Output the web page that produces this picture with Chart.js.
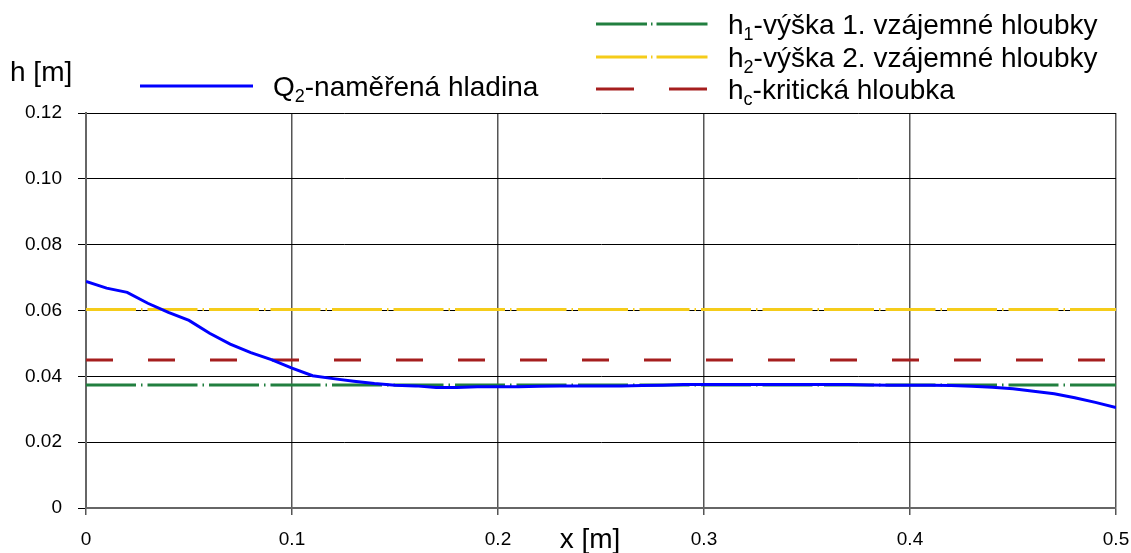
<!DOCTYPE html>
<html>
<head>
<meta charset="utf-8">
<script src="https://cdn.jsdelivr.net/npm/chart.js@4"></script>
<style>
  html, body { margin: 0; padding: 0; background: #fff; }
  #wrap { width: 1131px; height: 553px; position: relative; }
</style>
</head>
<body>
<div id="wrap"><canvas id="chart"></canvas></div>
<script>
// measured profile Q2
const xValues = [0, 0.01, 0.02, 0.03, 0.04, 0.05, 0.06, 0.07, 0.08, 0.09,
  0.10, 0.11, 0.12, 0.13, 0.14, 0.15, 0.16, 0.17, 0.18, 0.19,
  0.20, 0.21, 0.22, 0.23, 0.24, 0.25, 0.26, 0.27, 0.28, 0.29,
  0.30, 0.31, 0.32, 0.33, 0.34, 0.35, 0.36, 0.37, 0.38, 0.39,
  0.40, 0.41, 0.42, 0.43, 0.44, 0.45, 0.46, 0.47, 0.48, 0.49, 0.50];
const q2Values = [0.0688, 0.0668, 0.0655, 0.0622, 0.0594, 0.0570, 0.0531, 0.0498, 0.0472, 0.0451,
  0.0425, 0.0402, 0.0393, 0.0385, 0.0378, 0.0373, 0.0371, 0.0366, 0.0366, 0.0368,
  0.0368, 0.0368, 0.0370, 0.0371, 0.0371, 0.0371, 0.0371, 0.0372, 0.0373, 0.0375,
  0.0375, 0.0375, 0.0375, 0.0375, 0.0375, 0.0375, 0.0375, 0.0375, 0.0374, 0.0373,
  0.0373, 0.0373, 0.0372, 0.0370, 0.0367, 0.0362, 0.0355, 0.0347, 0.0335, 0.0321, 0.0305];

// constant depths
const h1 = 0.0374;   // 1. vzájemná hloubka
const h2 = 0.0603;   // 2. vzájemná hloubka
const hc = 0.0450;   // kritická hloubka
const xRange = [0, 0.5];

const yTicks = [0, 0.02, 0.04, 0.06, 0.08, 0.10, 0.12];
const xTicks = [0, 0.1, 0.2, 0.3, 0.4, 0.5];

// legend names as [base, subscript, rest]
const names = {
  q2: ['Q', '2', '-naměřená hladina'],
  h1: ['h', '1', '-výška 1. vzájemné hloubky'],
  h2: ['h', '2', '-výška 2. vzájemné hloubky'],
  hc: ['h', 'c', '-kritická hloubka']
};
const yTitle = 'h [m]';
const xTitle = 'x [m]';

const FONT = "'Liberation Sans', Arial, sans-serif";

function flat(v) {
  return xRange.map(x => ({ x: x, y: v }));
}

const datasets = [
  {
    key: 'q2',
    data: xValues.map((x, i) => ({ x: x, y: q2Values[i] })),
    borderColor: '#0000ff', borderWidth: 3, order: 0,
    legendPos: [140, 86, 253], legendDash: []
  },
  {
    key: 'h1', data: flat(h1),
    borderColor: '#217f3f', borderWidth: 3, borderDash: [50, 5, 1.5, 5], order: 1,
    legendPos: [596, 24, 708], legendDash: [51, 4, 1.5, 4]
  },
  {
    key: 'h2', data: flat(h2),
    borderColor: '#f5cc1a', borderWidth: 3, borderDash: [50, 5, 1.5, 5], order: 2,
    legendPos: [596, 57, 708], legendDash: [51, 4, 1.5, 4]
  },
  {
    key: 'hc', data: flat(hc),
    borderColor: '#a51e1e', borderWidth: 3, borderDash: [27, 35], order: 3,
    legendPos: [596, 89, 708], legendDash: [38, 35]
  }
];

// draws the legend entries and axis titles with subscripts
const decorations = {
  id: 'decorations',
  afterDraw(chart) {
    const ctx = chart.ctx;
    ctx.save();
    chart.data.datasets.forEach(ds => {
      const [x0, y, x1] = ds.legendPos;
      ctx.beginPath();
      ctx.strokeStyle = ds.borderColor;
      ctx.lineWidth = ds.borderWidth;
      ctx.setLineDash(ds.legendDash);
      ctx.moveTo(x0, y);
      ctx.lineTo(x1, y);
      ctx.stroke();
      ctx.setLineDash([]);

      const parts = names[ds.key];
      let tx = x1 + 20;
      ctx.fillStyle = '#000';
      ctx.textBaseline = 'alphabetic';
      ctx.textAlign = 'left';
      const base = y + 10;
      ctx.font = '28px ' + FONT;
      ctx.fillText(parts[0], tx, base);
      tx += ctx.measureText(parts[0]).width;
      ctx.font = '18px ' + FONT;
      ctx.fillText(parts[1], tx, base + 6);
      tx += ctx.measureText(parts[1]).width;
      ctx.font = '28px ' + FONT;
      ctx.fillText(parts[2], tx, base);
    });

    ctx.font = '28px ' + FONT;
    ctx.fillStyle = '#000';
    ctx.textBaseline = 'middle';
    ctx.textAlign = 'left';
    ctx.fillText(yTitle, 10, 73);
    ctx.textAlign = 'center';
    ctx.fillText(xTitle, 590, 540);
    ctx.restore();
  }
};

new Chart(document.getElementById('chart'), {
  type: 'scatter',
  data: {
    datasets: datasets.map(d => Object.assign({
      label: names[d.key].join(''),
      showLine: true,
      pointRadius: 0,
      pointHoverRadius: 0,
      fill: false,
      tension: 0
    }, d))
  },
  options: {
    responsive: true,
    maintainAspectRatio: false,
    animation: false,
    layout: { padding: { top: 113, right: 15, bottom: 0, left: 0 } },
    plugins: {
      legend: { display: false },
      tooltip: { enabled: false }
    },
    scales: {
      x: {
        type: 'linear',
        min: xRange[0], max: xRange[1],
        afterBuildTicks: s => { s.ticks = xTicks.map(v => ({ value: v })); },
        afterFit: s => { s.height = 45; s.paddingLeft = 0; s.paddingRight = 0; },
        ticks: {
          color: '#000',
          font: { family: FONT, size: 19 },
          padding: 13,
          maxRotation: 0,
          callback: v => String(v)
        },
        grid: { color: '#555', lineWidth: 1.5, tickLength: 7 },
        border: { color: '#666', width: 2 }
      },
      y: {
        min: 0, max: 0.12,
        afterBuildTicks: s => { s.ticks = yTicks.map(v => ({ value: v })); },
        afterFit: s => { s.width = 86; s.paddingTop = 0; s.paddingBottom = 0; },
        ticks: {
          color: '#000',
          font: { family: FONT, size: 19 },
          padding: 16,
          callback: v => v === 0 ? '0' : v.toFixed(2)
        },
        grid: { color: '#000', lineWidth: 1, tickLength: 8 },
        border: { color: '#666', width: 2 }
      }
    }
  },
  plugins: [decorations]
});
</script>
</body>
</html>
